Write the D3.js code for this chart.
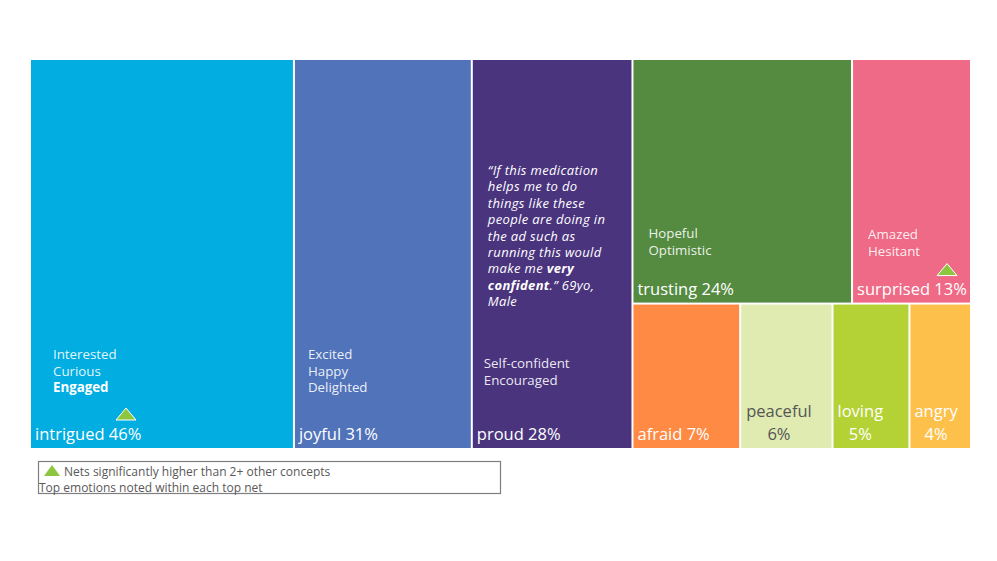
<!DOCTYPE html>
<html><head><meta charset="utf-8">
<script src="https://cdn.jsdelivr.net/npm/d3@7"></script>
<style>
html,body{margin:0;padding:0;background:#fff;}
svg{display:block;font-family:"Open Sans","Noto Sans",sans-serif;}
</style></head>
<body><svg id="chart" width="997" height="561"></svg>
<script>
// ---- data ----
const categories = ["intrigued","joyful","proud","trusting","surprised","afraid","peaceful","loving","angry"];
const values = [46,31,28,24,13,7,6,5,4];
const groupOf = ["left","left","left","rightTop","rightTop","rightBottom","rightBottom","rightBottom","rightBottom"];
const colors = ["#02ADE1","#5173BA","#4A347E","#558B41","#EE6A86","#FE8A43","#DFEBB1","#B4D235","#FDC04A"];
const textColors = ["#fff","#fff","#fff","#fff","#fff","#fff","#555","#fff","#fff"];
const subLabels = [["Interested","Curious","Engaged"],["Excited","Happy","Delighted"],["Self-confident","Encouraged"],["Hopeful","Optimistic"],["Amazed","Hesitant"],[],[],[],[]];
const boldSub = ["Engaged"];
const significant = ["intrigued","surprised"];
const quoteLines = [
  [["“If this medication",false]],
  [["helps me to do",false]],
  [["things like these",false]],
  [["people are doing in",false]],
  [["the ad such as",false]],
  [["running this would",false]],
  [["make me ",false],["very",true]],
  [["confident",true],[".” 69yo,",false]],
  [["Male",false]]
];
const legendLines = ["Nets significantly higher than 2+ other concepts","Top emotions noted within each top net"];

// ---- layout ----
const svg = d3.select("#chart");
const X0 = 31, Y0 = 60, W = 939, H = 388;

const tree = {name:"root", children:[
  {name:"left", children:[]},
  {name:"right", children:[{name:"rightTop",children:[]},{name:"rightBottom",children:[]}]}
]};
const findNode = (n, name) => n.name===name ? n : (n.children||[]).map(c=>findNode(c,name)).find(Boolean);
categories.forEach((c,i)=>{ findNode(tree, groupOf[i]).children.push({name:c, value:values[i], idx:i}); });

const root = d3.hierarchy(tree).sum(d=>d.value||0);
d3.treemap()
  .size([W,H])
  .paddingInner(2)
  .tile((node,x0,y0,x1,y1)=>{
    if(node.data.name==="right") d3.treemapSlice(node,x0,y0,x1,y1);
    else d3.treemapDice(node,x0,y0,x1,y1);
  })(root);

const g = svg.append("g").attr("transform",`translate(${X0},${Y0})`);
const leaves = root.leaves();

const cell = g.selectAll("g.cell").data(leaves).join("g").attr("class","cell")
  .attr("transform",d=>`translate(${d.x0},${d.y0})`);
cell.append("rect")
  .attr("width",d=>d.x1-d.x0).attr("height",d=>d.y1-d.y0)
  .attr("fill",d=>colors[d.data.idx]);

const tri = (sel, cx, by, w, h) => sel.append("path")
  .attr("d",`M${cx-w/2},${by}L${cx+w/2},${by}L${cx},${by-h}Z`)
  .attr("fill","#8DC63F").attr("stroke","#fff").attr("stroke-width",1);

cell.each(function(d){
  const i = d.data.idx, s = d3.select(this);
  const w = d.x1-d.x0, h = d.y1-d.y0;
  const tc = textColors[i];
  const name = categories[i];
  if(["peaceful","loving","angry"].includes(name)){
    const nx = name==="peaceful" ? 5 : 4;
    const t = s.append("text").attr("x",nx).attr("y",h-31)
      .attr("fill",tc).attr("font-size",16.5).text(name);
    const tw = t.node().getComputedTextLength();
    s.append("text").attr("x",nx+tw/2).attr("y",h-8).attr("text-anchor","middle")
      .attr("fill",tc).attr("font-size",16.5).text(values[i]+"%");
  } else {
    s.append("text").attr("x",4).attr("y",h-8).attr("fill",tc).attr("font-size",16.5)
      .text(`${name} ${values[i]}%`);
  }
  // sub labels
  const subs = subLabels[i];
  if(subs.length){
    let sx, sy;
    if(name==="intrigued"){sx=22; sy=299;}
    else if(name==="joyful"){sx=13; sy=299;}
    else if(name==="proud"){sx=11; sy=308;}
    else if(name==="trusting"){sx=15; sy=178;}
    else {sx=15; sy=179;}
    subs.forEach((t,k)=>{
      s.append("text").attr("x",sx).attr("y",sy+k*16.5).attr("fill","#fff")
        .attr("fill-opacity", boldSub.includes(t)?1:0.9)
        .attr("font-size",13.3).attr("font-weight",boldSub.includes(t)?"bold":"normal").text(t);
    });
  }
  if(name==="proud"){
    quoteLines.forEach((parts,k)=>{
      const t = s.append("text").attr("x",15).attr("y",115+k*16.4).attr("fill","#fff")
        .attr("font-size",13).attr("letter-spacing",0.35).attr("font-style","italic");
      parts.forEach(p=>t.append("tspan").attr("font-weight",p[1]?"bold":"normal").text(p[0]));
    });
  }
  if(name==="intrigued") tri(s, 95, h-28, 20, 12);
  if(name==="surprised") tri(s, 94, h-27, 20, 12);
});

// ---- legend ----
const lg = svg.append("g");
lg.append("rect").attr("x",38.5).attr("y",461.5).attr("width",462).attr("height",32)
  .attr("fill","#fff").attr("stroke","#7f7f7f").attr("stroke-width",1.2);
lg.append("path").attr("d","M44,476L60,476L52,465Z").attr("fill","#8DC63F");
lg.append("text").attr("x",64).attr("y",475.5).attr("font-size",12).attr("fill","#595959").text(legendLines[0]);
lg.append("text").attr("x",39).attr("y",491.8).attr("font-size",12).attr("fill","#595959").text(legendLines[1]);
</script></body></html>
